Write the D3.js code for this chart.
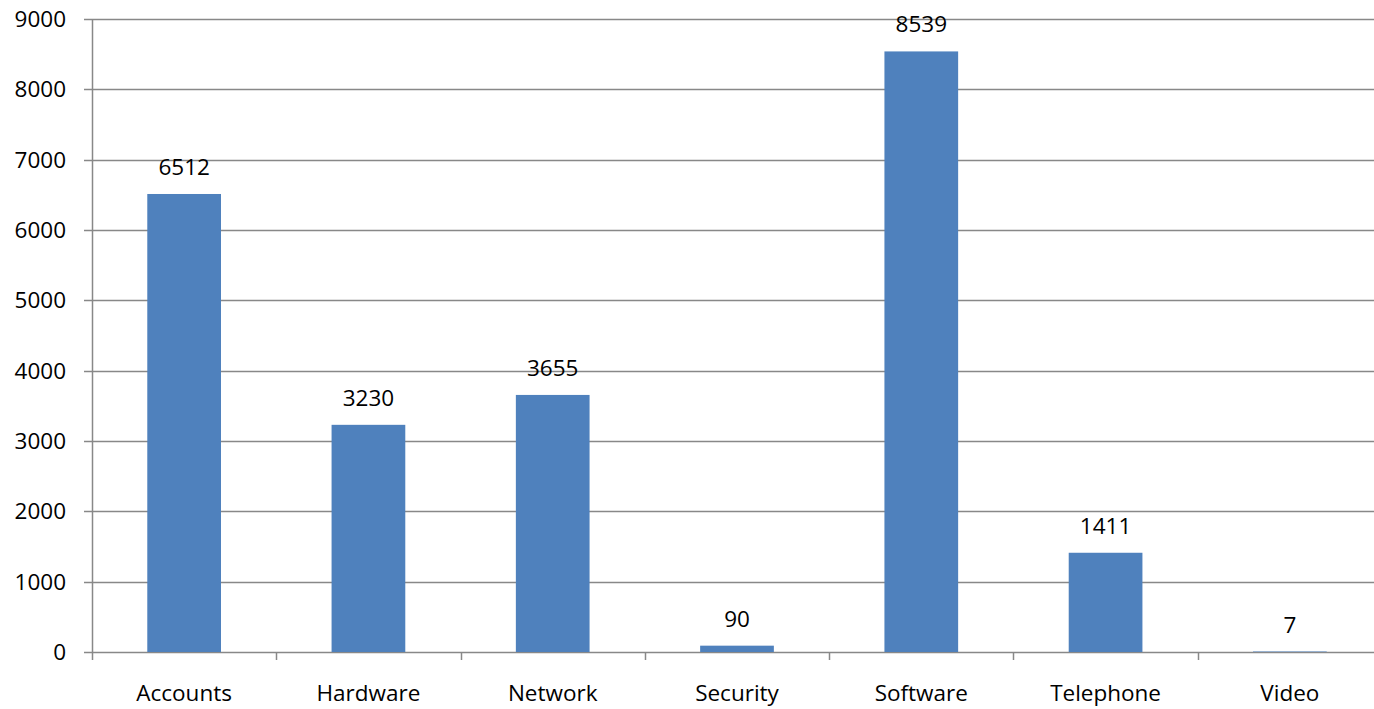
<!DOCTYPE html>
<html>
<head>
<meta charset="utf-8">
<script src="https://cdn.jsdelivr.net/npm/d3@7"></script>
<style>
  body { margin: 0; background: #fff; }
  svg { display: block; font-family: "Open Sans", sans-serif; }
</style>
</head>
<body>
<svg id="chart" width="1374" height="709"></svg>
<script>
var categories = ["Accounts", "Hardware", "Network", "Security", "Software", "Telephone", "Video"];
var counts = [6512, 3230, 3655, 90, 8539, 1411, 7];
var yTicks = [0, 1000, 2000, 3000, 4000, 5000, 6000, 7000, 8000, 9000];

var svg = d3.select("#chart"),
	LEFT = 92,
	RIGHT = 1382,
	TOP = 19,
	BOTTOM = 652,
	GRID = "#888888",
	BAR = "#4f81bd",
	FONT = 22.5;

var x = d3.scaleBand().domain(categories).range([LEFT, RIGHT]).paddingInner(0.6).paddingOuter(0.3);
var xTick = d3.scaleBand().domain(categories).range([LEFT, RIGHT]);
var y = d3.scaleLinear().domain([0, 9000]).range([BOTTOM, TOP]);

// horizontal grid
svg.append("g")
	.selectAll("line")
	.data(yTicks)
	.enter()
	.append("line")
	.attr("x1", LEFT - 8)
	.attr("x2", 1374)
	.attr("y1", function(d) { return Math.round(y(d)) + 0.5; })
	.attr("y2", function(d) { return Math.round(y(d)) + 0.5; })
	.attr("stroke", GRID)
	.attr("stroke-width", 1.5);

// y labels
svg.append("g")
	.selectAll("text")
	.data(yTicks)
	.enter()
	.append("text")
	.attr("x", LEFT - 26)
	.attr("y", function(d) { return y(d); })
	.attr("dy", "0.36em")
	.attr("text-anchor", "end")
	.attr("font-size", FONT)
	.attr("fill", "#000")
	.text(function(d) { return d; });

// bars
svg.append("g")
	.selectAll("rect")
	.data(counts)
	.enter()
	.append("rect")
	.attr("x", function(d, i) { return x(categories[i]); })
	.attr("width", x.bandwidth())
	.attr("y", function(d) { return y(d); })
	.attr("height", function(d) { return BOTTOM - y(d); })
	.attr("fill", BAR);

// value labels
svg.append("g")
	.selectAll("text")
	.data(counts)
	.enter()
	.append("text")
	.attr("x", function(d, i) { return x(categories[i]) + x.bandwidth() / 2; })
	.attr("y", function(d) { return y(d) - 19; })
	.attr("text-anchor", "middle")
	.attr("font-size", FONT)
	.attr("fill", "#000")
	.text(function(d) { return d; });

// axes lines
svg.append("line")
	.attr("x1", LEFT + 0.5).attr("x2", LEFT + 0.5)
	.attr("y1", TOP).attr("y2", BOTTOM + 8)
	.attr("stroke", GRID).attr("stroke-width", 1.5);

svg.append("g")
	.selectAll("line")
	.data(categories.slice(1))
	.enter()
	.append("line")
	.attr("x1", function(d) { return Math.round(xTick(d)) + 0.5; })
	.attr("x2", function(d) { return Math.round(xTick(d)) + 0.5; })
	.attr("y1", BOTTOM)
	.attr("y2", BOTTOM + 8)
	.attr("stroke", GRID)
	.attr("stroke-width", 1.5);

// x labels
svg.append("g")
	.selectAll("text")
	.data(categories)
	.enter()
	.append("text")
	.attr("x", function(d) { return xTick(d) + xTick.bandwidth() / 2; })
	.attr("y", 701)
	.attr("text-anchor", "middle")
	.attr("font-size", FONT)
	.attr("fill", "#000")
	.text(function(d) { return d; });
</script>
</body>
</html>
